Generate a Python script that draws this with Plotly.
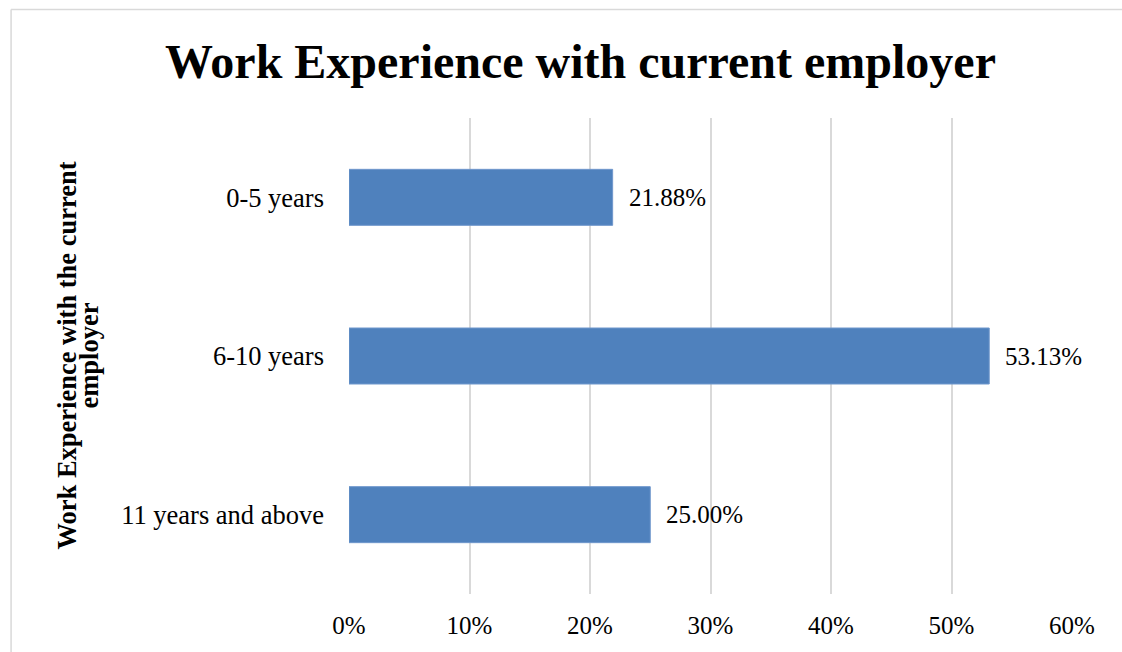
import plotly.graph_objects as go

categories = ["0-5 years", "6-10 years", "11 years and above"]
values = [21.88, 53.13, 25.00]
x_ticks = [0, 10, 20, 30, 40, 50, 60]
x_tick_labels = ["0%", "10%", "20%", "30%", "40%", "50%", "60%"]
title_text = "Work Experience with current employer"
y_title_lines = ["Work Experience with the current", "employer"]

W, H = 1122, 652
L, R, T, B = 348.7, 49.7, 118, 58
pw, ph = W - L - R, H - T - B

def px_x(p):
    return (p - L) / pw

def px_y(p):
    return (H - B - p) / ph

FONT = "Liberation Serif, Times New Roman, serif"

fig = go.Figure()
fig.add_trace(go.Bar(
    x=values, y=categories, orientation="h",
    marker=dict(color="#4F81BD", line=dict(color="#6F97CC", width=1)),
    hoverinfo="skip", showlegend=False,
))

for v, c in zip(values, categories):
    fig.add_annotation(x=v, y=c, xref="x", yref="y", text=f"{v:.2f}%",
                       showarrow=False, xanchor="left", xshift=14,
                       font=dict(family=FONT, size=25, color="#000000"))

fig.add_annotation(x=px_x(580), y=px_y(62), xref="paper", yref="paper",
                   text=f"<b>{title_text}</b>", showarrow=False,
                   xanchor="center", yanchor="middle",
                   font=dict(family=FONT, size=48, color="#000000"))

for line, xc in zip(y_title_lines, [66, 88]):
    fig.add_annotation(x=px_x(xc), y=px_y(356), xref="paper", yref="paper",
                       text=f"<b>{line}</b>", showarrow=False, textangle=-90,
                       xanchor="center", yanchor="middle",
                       font=dict(family=FONT, size=26.5, color="#000000"))

# chart frame (top and left edges visible in the reference)
fig.add_shape(type="line", xref="paper", yref="paper",
              x0=px_x(10.5), y0=px_y(9.5), x1=px_x(1160), y1=px_y(9.5),
              line=dict(color="#D9D9D9", width=1.5), layer="below")
fig.add_shape(type="line", xref="paper", yref="paper",
              x0=px_x(10.5), y0=px_y(9.5), x1=px_x(10.5), y1=px_y(700),
              line=dict(color="#D9D9D9", width=1.5), layer="below")

fig.update_layout(
    width=W, height=H,
    margin=dict(l=L, r=R, t=T, b=B),
    paper_bgcolor="white", plot_bgcolor="white",
    bargap=0.647,
    font=dict(family=FONT, size=25, color="#000000"),
)
fig.update_xaxes(range=[0, 60], tickvals=x_ticks, ticktext=x_tick_labels,
                 showgrid=True, gridcolor="#D9D9D9", gridwidth=1.5,
                 zeroline=False, showline=False, ticks="",
                 ticklabelstandoff=14,
                 tickfont=dict(family=FONT, size=25, color="#000000"))
fig.update_yaxes(categoryorder="array", categoryarray=categories[::-1],
                 showgrid=False, zeroline=False, showline=False, ticks="",
                 ticklabelstandoff=24,
                 tickfont=dict(family=FONT, size=26.5, color="#000000"))

fig.write_html("out.html")
